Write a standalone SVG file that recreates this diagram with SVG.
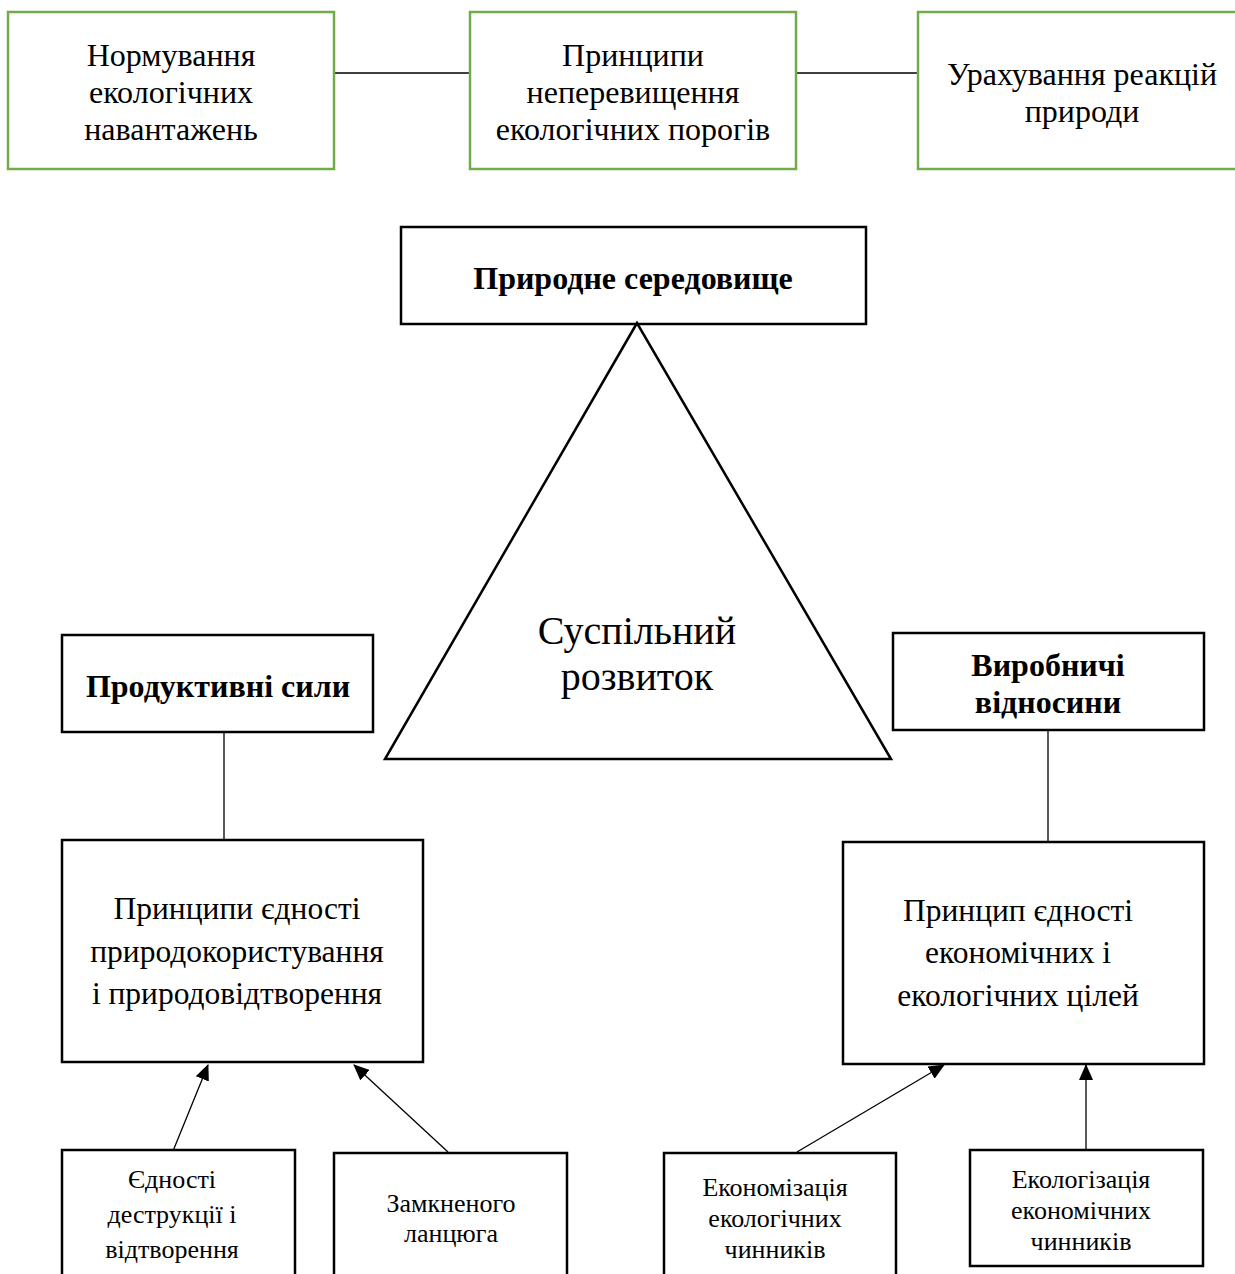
<svg xmlns="http://www.w3.org/2000/svg" width="1235" height="1274" viewBox="0 0 1235 1274">
<defs>
<style>
.g{fill:#fff;stroke:#70ad47;stroke-width:2.5}
.b{fill:#fff;stroke:#000;stroke-width:2.5}
.ln{stroke:#000;stroke-width:1.3;fill:none}
.t{font-family:"Liberation Serif","Times New Roman",serif;fill:#000;text-anchor:middle}
.t30{font-size:32px}
.t28{font-size:31.5px}
.bold{font-size:32px;font-weight:bold}
.big{font-size:40px}
.sm{font-size:26px}
</style>
<marker id="ah" markerWidth="16" markerHeight="14" refX="15" refY="7" orient="auto" markerUnits="userSpaceOnUse">
<path d="M0,0 L16,7 L0,14 Z" fill="#000"/>
</marker>
</defs>
<rect width="1235" height="1274" fill="#fff"/>
<g id="connectors">
<line class="ln" x1="334" y1="73" x2="470" y2="73"/>
<line class="ln" x1="796" y1="73" x2="918" y2="73"/>
<line class="ln" x1="224" y1="732" x2="224" y2="840"/>
<line class="ln" x1="1048" y1="730" x2="1048" y2="842"/>
<line class="ln" x1="173" y1="1151" x2="208" y2="1065" marker-end="url(#ah)"/>
<line class="ln" x1="448" y1="1152" x2="354" y2="1065" marker-end="url(#ah)"/>
<line class="ln" x1="797" y1="1152" x2="944" y2="1065" marker-end="url(#ah)"/>
<line class="ln" x1="1086" y1="1150" x2="1086" y2="1065" marker-end="url(#ah)"/>
</g>
<g id="n1">
<rect class="g" x="8" y="12" width="326" height="157"/>
<text class="t t30" x="171" y="66">Нормування</text>
<text class="t t30" x="171" y="103">екологічних</text>
<text class="t t30" x="171" y="140">навантажень</text>
</g>
<g id="n2">
<rect class="g" x="470" y="12" width="326" height="157"/>
<text class="t t30" x="633" y="66">Принципи</text>
<text class="t t30" x="633" y="103">неперевищення</text>
<text class="t t30" x="633" y="140">екологічних порогів</text>
</g>
<g id="n3">
<rect class="g" x="918" y="12" width="330" height="157"/>
<text class="t t30" x="1082" y="85">Урахування реакцій</text>
<text class="t t30" x="1082" y="122">природи</text>
</g>
<g id="n4">
<rect class="b" x="401" y="227" width="465" height="97"/>
<text class="t bold" x="633" y="289">Природне середовище</text>
</g>
<g id="n5">
<polygon class="b" points="637,323 385,759 891,759"/>
<text class="t big" x="637" y="644">Суспільний</text>
<text class="t big" x="637" y="690">розвиток</text>
</g>
<g id="n6">
<rect class="b" x="62" y="635" width="311" height="97"/>
<text class="t bold" x="218" y="697">Продуктивні сили</text>
</g>
<g id="n7">
<rect class="b" x="893" y="633" width="311" height="97"/>
<text class="t bold" x="1048" y="676">Виробничі</text>
<text class="t bold" x="1048" y="713">відносини</text>
</g>
<g id="n8">
<rect class="b" x="62" y="840" width="361" height="222"/>
<text class="t t28" x="237" y="919">Принципи єдності</text>
<text class="t t28" x="237" y="962">природокористування</text>
<text class="t t28" x="237" y="1004">і природовідтворення</text>
</g>
<g id="n9">
<rect class="b" x="843" y="842" width="361" height="222"/>
<text class="t t28" x="1018" y="921">Принцип єдності</text>
<text class="t t28" x="1018" y="963">економічних і</text>
<text class="t t28" x="1018" y="1006">екологічних цілей</text>
</g>
<g id="n10">
<rect class="b" x="62" y="1150" width="233" height="140"/>
<text class="t sm" x="172" y="1188">Єдності</text>
<text class="t sm" x="172" y="1223">деструкції і</text>
<text class="t sm" x="172" y="1258">відтворення</text>
</g>
<g id="n11">
<rect class="b" x="334" y="1153" width="233" height="140"/>
<text class="t sm" x="451" y="1212">Замкненого</text>
<text class="t sm" x="451" y="1242">ланцюга</text>
</g>
<g id="n12">
<rect class="b" x="664" y="1153" width="232" height="140"/>
<text class="t sm" x="775" y="1196">Економізація</text>
<text class="t sm" x="775" y="1227">екологічних</text>
<text class="t sm" x="775" y="1258">чинників</text>
</g>
<g id="n13">
<rect class="b" x="970" y="1150" width="233" height="116"/>
<text class="t sm" x="1081" y="1188">Екологізація</text>
<text class="t sm" x="1081" y="1219">економічних</text>
<text class="t sm" x="1081" y="1250">чинників</text>
</g>
</svg>
